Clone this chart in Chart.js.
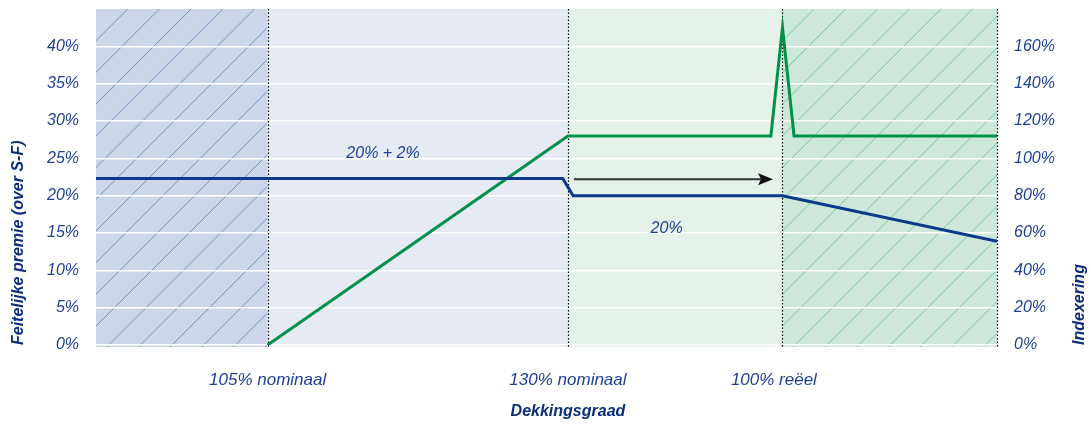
<!DOCTYPE html>
<html>
<head>
<meta charset="utf-8">
<script src="https://cdn.jsdelivr.net/npm/chart.js@4"></script>
<style>
  html, body { margin: 0; padding: 0; background: #fff; }
  #wrap { width: 1091px; height: 425px; }
</style>
</head>
<body>
<div id="wrap"><canvas id="myChart"></canvas></div>
<script>
// regions along the x axis (arbitrary units)
const xBounds = [0, 4, 11, 16, 21]
const xLabels = ["105% nominaal", "130% nominaal", "100% reëel"]
const xLabelPos = [4, 11, 15.8]

const leftTicks = [0, 5, 10, 15, 20, 25, 30, 35, 40]
const rightTicks = [0, 20, 40, 60, 80, 100, 120, 140, 160]

// Feitelijke premie (left axis, %)
const premieX = [0, 10.88, 11.12, 16, 21]
const premie = [22.3, 22.3, 20, 20, 13.9]

// Indexering (right axis, %)
const indexX = [4, 11, 15.73, 16, 16.27, 21]
const indexering = [0, 112, 112, 170, 112, 112]

// text notes and arrow, in data units of x / left axis
const notes = ["20% + 2%", "20%"]
const notesX = [6.69, 13.3]
const notesY = [25, 15]
const arrowFrom = [11.14, 22.2]
const arrowTo = [15.78, 22.2]

const yTitle = "Feitelijke premie (over S-F)"
const y1Title = "Indexering"
const xTitle = "Dekkingsgraad"

const FONT = "'Liberation Sans', Arial, sans-serif"
const TEXT_COLOR = "#1e4191"
const TITLE_COLOR = "#0c2d7a"

const regionFill = ["#ccd6e8", "#e6eaf3", "#e4f2ea", "#cde8da"]
const regionHatch = ["rgba(95,120,185,0.75)", null, null, "rgba(95,195,145,0.8)"]

function toPoints(xs, ys) {
  return xs.map((x, i) => ({ x: x, y: ys[i] }))
}

const regionsPlugin = {
  id: "regions",
  beforeDraw(chart) {
    const { ctx, chartArea: a, scales } = chart
    const x = scales.x
    ctx.save()
    for (let i = 0; i < regionFill.length; i++) {
      const x0 = x.getPixelForValue(xBounds[i])
      const x1 = x.getPixelForValue(xBounds[i + 1])
      ctx.fillStyle = regionFill[i]
      ctx.fillRect(x0, a.top, x1 - x0, a.bottom - a.top + 2)
      if (regionHatch[i]) {
        ctx.save()
        ctx.beginPath()
        ctx.rect(x0, a.top, x1 - x0, a.bottom - a.top + 2)
        ctx.clip()
        ctx.strokeStyle = regionHatch[i]
        ctx.lineWidth = 1
        const h = a.bottom - a.top + 2
        for (let k = x0 - h; k < x1 + 32; k += 31.7) {
          ctx.beginPath()
          ctx.moveTo(k, a.bottom + 2)
          ctx.lineTo(k + h, a.top)
          ctx.stroke()
        }
        ctx.restore()
      }
    }
    ctx.restore()
  },
  beforeDatasetsDraw(chart) {
    const { ctx, chartArea: a, scales } = chart
    ctx.save()
    ctx.strokeStyle = "#000"
    ctx.lineWidth = 1.2
    ctx.setLineDash([1.5, 2])
    xBounds.slice(1).forEach((v) => {
      const px = Math.round(scales.x.getPixelForValue(v)) + 0.5
      ctx.beginPath()
      ctx.moveTo(px, a.top)
      ctx.lineTo(px, a.bottom + 2)
      ctx.stroke()
    })
    ctx.restore()
  },
  afterDatasetsDraw(chart) {
    const { ctx, chartArea: a, scales } = chart
    const x = scales.x
    const y = scales.y
    ctx.save()

    // arrow
    const ax0 = x.getPixelForValue(arrowFrom[0])
    const ay0 = y.getPixelForValue(arrowFrom[1])
    const ax1 = x.getPixelForValue(arrowTo[0])
    const ay1 = y.getPixelForValue(arrowTo[1])
    ctx.strokeStyle = "#333"
    ctx.fillStyle = "#111"
    ctx.lineWidth = 2
    ctx.beginPath()
    ctx.moveTo(ax0, ay0)
    ctx.lineTo(ax1 - 12, ay1)
    ctx.stroke()
    ctx.beginPath()
    ctx.moveTo(ax1, ay1)
    ctx.lineTo(ax1 - 15, ay1 - 6)
    ctx.lineTo(ax1 - 12, ay1)
    ctx.lineTo(ax1 - 15, ay1 + 6)
    ctx.closePath()
    ctx.fill()

    // notes
    ctx.font = "italic 16px " + FONT
    ctx.fillStyle = TEXT_COLOR
    ctx.textAlign = "center"
    ctx.textBaseline = "alphabetic"
    notes.forEach((t, i) => {
      ctx.fillText(t, x.getPixelForValue(notesX[i]), y.getPixelForValue(notesY[i]))
    })

    // axis titles
    ctx.font = "italic bold 16px " + FONT
    ctx.fillStyle = TITLE_COLOR
    ctx.textBaseline = "middle"
    ctx.textAlign = "left"
    ctx.save()
    ctx.translate(19, a.bottom)
    ctx.rotate(-Math.PI / 2)
    ctx.fillText(yTitle, 0, 0)
    ctx.restore()
    ctx.save()
    ctx.translate(1080, a.bottom)
    ctx.rotate(-Math.PI / 2)
    ctx.fillText(y1Title, 0, 0)
    ctx.restore()
    ctx.textAlign = "center"
    ctx.fillText(xTitle, x.getPixelForValue(xBounds[2]), 412)

    ctx.restore()
  },
}

const ctx = document.querySelector("#myChart")

new Chart(ctx, {
  type: "line",
  data: {
    datasets: [
      {
        label: "Feitelijke premie",
        data: toPoints(premieX, premie),
        borderColor: "#0b3a8a",
        borderWidth: 3,
        pointRadius: 0,
        yAxisID: "y",
      },
      {
        label: "Indexering",
        data: toPoints(indexX, indexering),
        borderColor: "#00914a",
        borderWidth: 3,
        pointRadius: 0,
        yAxisID: "y1",
      },
    ],
  },
  options: {
    responsive: true,
    maintainAspectRatio: false,
    animation: false,
    layout: { padding: { top: 9, left: 0, right: 0, bottom: 0 } },
    plugins: {
      legend: { display: false },
      tooltip: { enabled: false },
    },
    scales: {
      x: {
        type: "linear",
        min: xBounds[0],
        max: xBounds[xBounds.length - 1],
        afterBuildTicks: (scale) => {
          scale.ticks = xLabelPos.map((v) => ({ value: v }))
        },
        afterFit: (scale) => {
          scale.height = 80
          scale.paddingLeft = 0
          scale.paddingRight = 0
        },
        grid: { display: false },
        border: { display: false },
        ticks: {
          padding: 17,
          maxRotation: 0,
          autoSkip: false,
          color: TEXT_COLOR,
          font: { family: FONT, size: 17, style: "italic" },
          callback: (value) => {
            const i = xLabelPos.indexOf(value)
            return i >= 0 ? xLabels[i] : ""
          },
        },
      },
      y: {
        position: "left",
        min: 0,
        max: 45,
        afterBuildTicks: (scale) => {
          scale.ticks = leftTicks.map((v) => ({ value: v }))
        },
        afterFit: (scale) => {
          scale.width = 96
          scale.paddingTop = 0
          scale.paddingBottom = 0
        },
        grid: { color: "#ffffff", lineWidth: 1.5, drawTicks: false },
        border: { display: false },
        ticks: {
          padding: 17,
          color: TEXT_COLOR,
          font: { family: FONT, size: 16, style: "italic" },
          callback: (value) => value + "%",
        },
      },
      y1: {
        position: "right",
        min: 0,
        max: 180,
        afterBuildTicks: (scale) => {
          scale.ticks = rightTicks.map((v) => ({ value: v }))
        },
        afterFit: (scale) => {
          scale.width = 94
          scale.paddingTop = 0
          scale.paddingBottom = 0
        },
        grid: { display: false, drawTicks: false },
        border: { display: false },
        ticks: {
          padding: 17,
          color: TEXT_COLOR,
          font: { family: FONT, size: 16, style: "italic" },
          callback: (value) => value + "%",
        },
      },
    },
  },
  plugins: [regionsPlugin],
})
</script>
</body>
</html>
